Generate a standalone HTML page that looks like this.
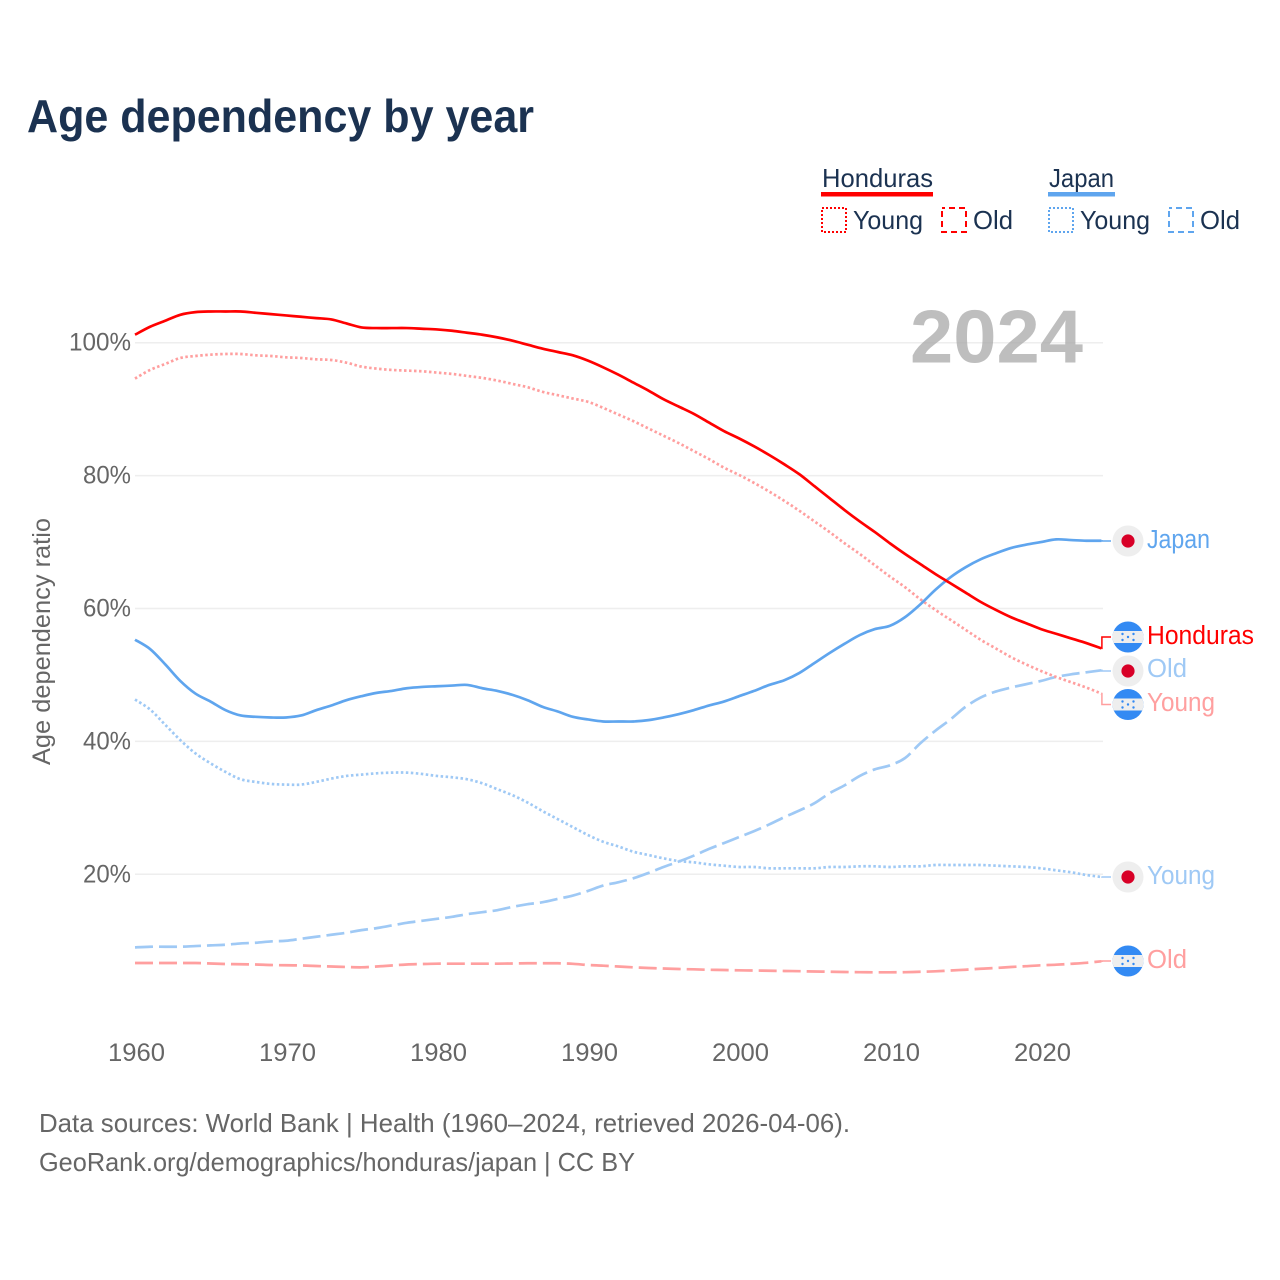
<!DOCTYPE html>
<html lang="en">
<head>
<meta charset="utf-8">
<title>Age dependency by year</title>
<style>
  html, body { margin: 0; padding: 0; background: #fff; }
  svg { display: block; font-family: "Liberation Sans", sans-serif; }
  .navy { fill: #1b3251; }
  .grey { fill: #666666; }
  .series { fill: none; stroke-width: 2.7; stroke-linejoin: round; }
  .conn { fill: none; stroke-width: 1.5; }
  .lab { font-size: 25.5px; }
</style>
</head>
<body>
<svg id="chart" xmlns="http://www.w3.org/2000/svg" width="1280" height="1280" viewBox="0 0 1280 1280">
  <defs>
    <clipPath id="round"><circle cx="0" cy="0" r="15.5"></circle></clipPath>
    <g id="flag-hn">
      <g clip-path="url(#round)">
        <rect x="-16" y="-16" width="32" height="32" fill="#338af3"></rect>
        <rect x="-16" y="-6" width="32" height="12" fill="#eeeeee"></rect>
      </g>
      <g fill="#338af3">
        <circle cx="0" cy="0" r="1.2"></circle>
        <circle cx="-5.5" cy="-3" r="1.2"></circle>
        <circle cx="5.5" cy="-3" r="1.2"></circle>
        <circle cx="-5.5" cy="3" r="1.2"></circle>
        <circle cx="5.5" cy="3" r="1.2"></circle>
      </g>
    </g>
    <g id="flag-jp">
      <circle cx="0" cy="0" r="15.5" fill="#eeeeee"></circle>
      <circle cx="0" cy="0" r="6.6" fill="#d80027"></circle>
    </g>
  </defs>

  <text class="navy" x="27" y="132" font-size="46" font-weight="700" textLength="507" lengthAdjust="spacingAndGlyphs">Age dependency by year</text>

  <g>
    <g>
      <text class="navy" x="822" y="187" font-size="26" textLength="111" lengthAdjust="spacingAndGlyphs">Honduras</text>
      <rect x="821" y="192" width="112" height="4.5" fill="#ff0000"></rect>
      <rect x="822" y="208" width="24" height="24" fill="none" stroke="#ff0000" stroke-width="2" stroke-dasharray="2 2"></rect>
      <text class="navy" x="853" y="229" font-size="26" textLength="70" lengthAdjust="spacingAndGlyphs">Young</text>
      <rect x="942" y="208" width="24" height="24" fill="none" stroke="#ff0000" stroke-width="2" stroke-dasharray="6 4" stroke-dashoffset="3"></rect>
      <text class="navy" x="973" y="229" font-size="26" textLength="40" lengthAdjust="spacingAndGlyphs">Old</text>
    </g>
    <g>
      <text class="navy" x="1049" y="187" font-size="26" textLength="65" lengthAdjust="spacingAndGlyphs">Japan</text>
      <rect x="1048" y="192" width="67" height="4.5" fill="#5fa5ee"></rect>
      <rect x="1049" y="208" width="24" height="24" fill="none" stroke="#5fa5ee" stroke-width="2" stroke-dasharray="2 2"></rect>
      <text class="navy" x="1080" y="229" font-size="26" textLength="70" lengthAdjust="spacingAndGlyphs">Young</text>
      <rect x="1169" y="208" width="24" height="24" fill="none" stroke="#5fa5ee" stroke-width="2" stroke-dasharray="6 4" stroke-dashoffset="3"></rect>
      <text class="navy" x="1200" y="229" font-size="26" textLength="40" lengthAdjust="spacingAndGlyphs">Old</text>
    </g>
  </g>

  <text class="grey" transform="translate(50,641.5) rotate(-90)" text-anchor="middle" font-size="25" textLength="247" lengthAdjust="spacingAndGlyphs">Age dependency ratio</text>

  <g id="grid"></g>
  <g id="yticks"></g>
  <g id="xticks"></g>

  <text x="910" y="362.5" font-size="75" font-weight="700" fill="#a8a8a8" fill-opacity="0.75" textLength="173" lengthAdjust="spacingAndGlyphs">2024</text>

  <g id="lines"></g>
  <g id="connectors"></g>

  <g>
    <use href="#flag-jp" x="1128" y="541"></use>
    <text class="lab" x="1147" y="548" fill="#5fa5ee" textLength="63" lengthAdjust="spacingAndGlyphs">Japan</text>
    <use href="#flag-hn" x="1128" y="637"></use>
    <text class="lab" x="1147" y="644" fill="#ff0000" textLength="107" lengthAdjust="spacingAndGlyphs">Honduras</text>
    <use href="#flag-jp" x="1128" y="671"></use>
    <text class="lab" x="1147" y="677" fill="#9fc9f5" textLength="40" lengthAdjust="spacingAndGlyphs">Old</text>
    <use href="#flag-hn" x="1128" y="704.5"></use>
    <text class="lab" x="1147" y="711" fill="#ff9f9f" textLength="68" lengthAdjust="spacingAndGlyphs">Young</text>
    <use href="#flag-jp" x="1128" y="877"></use>
    <text class="lab" x="1147" y="884" fill="#9fc9f5" textLength="68" lengthAdjust="spacingAndGlyphs">Young</text>
    <use href="#flag-hn" x="1128" y="961"></use>
    <text class="lab" x="1147" y="968" fill="#ff9f9f" textLength="40" lengthAdjust="spacingAndGlyphs">Old</text>
  </g>

  <text class="grey" x="39" y="1132" font-size="26" textLength="811" lengthAdjust="spacingAndGlyphs">Data sources: World Bank | Health (1960–2024, retrieved 2026-04-06).</text>
  <text class="grey" x="39" y="1171" font-size="26" textLength="596" lengthAdjust="spacingAndGlyphs">GeoRank.org/demographics/honduras/japan | CC BY</text>
</svg>

<script>
const years = [
  1960,1961,1962,1963,1964,1965,1966,1967,1968,1969,
  1970,1971,1972,1973,1974,1975,1976,1977,1978,1979,
  1980,1981,1982,1983,1984,1985,1986,1987,1988,1989,
  1990,1991,1992,1993,1994,1995,1996,1997,1998,1999,
  2000,2001,2002,2003,2004,2005,2006,2007,2008,2009,
  2010,2011,2012,2013,2014,2015,2016,2017,2018,2019,
  2020,2021,2022,2023,2024
];
const hondurasTotal = [
  101.2,102.4,103.3,104.2,104.6,104.7,104.7,104.7,104.5,104.3,
  104.1,103.9,103.7,103.5,102.9,102.3,102.2,102.2,102.2,102.1,
  102.0,101.8,101.5,101.2,100.8,100.3,99.7,99.1,98.6,98.1,
  97.3,96.3,95.2,94.0,92.8,91.5,90.4,89.3,88.0,86.7,
  85.6,84.4,83.1,81.7,80.2,78.4,76.6,74.8,73.1,71.5,
  69.8,68.2,66.7,65.2,63.8,62.4,61.0,59.8,58.7,57.8,
  56.9,56.2,55.5,54.8,54.0
];
const hondurasYoung = [
  94.6,95.9,96.8,97.7,98.0,98.2,98.3,98.3,98.1,98.0,
  97.8,97.7,97.5,97.4,97.0,96.4,96.1,95.9,95.8,95.7,
  95.5,95.3,95.0,94.7,94.3,93.8,93.3,92.6,92.1,91.6,
  91.1,90.2,89.2,88.2,87.1,86.0,84.9,83.7,82.5,81.2,
  80.1,78.9,77.6,76.2,74.7,73.1,71.5,69.8,68.2,66.5,
  64.8,63.2,61.4,59.8,58.3,56.8,55.3,54.0,52.7,51.6,
  50.6,49.7,48.9,48.1,47.2
];
const hondurasOld = [
  6.65,6.65,6.65,6.65,6.65,6.58,6.5,6.46,6.43,6.35,
  6.31,6.28,6.2,6.12,6.05,6.0,6.12,6.28,6.43,6.5,
  6.55,6.55,6.55,6.55,6.55,6.58,6.61,6.61,6.61,6.53,
  6.35,6.25,6.12,6.0,5.9,5.82,5.75,5.7,5.63,5.6,
  5.55,5.52,5.49,5.45,5.42,5.37,5.34,5.3,5.27,5.25,
  5.25,5.27,5.33,5.4,5.52,5.64,5.79,5.9,6.05,6.17,
  6.31,6.4,6.53,6.68,6.91
];
const japanTotal = [
  55.3,53.9,51.6,49.1,47.2,46.0,44.7,43.9,43.7,43.6,
  43.6,43.9,44.7,45.4,46.2,46.8,47.3,47.6,48.0,48.2,
  48.3,48.4,48.5,48.0,47.6,47.0,46.2,45.2,44.5,43.7,
  43.3,43.0,43.0,43.0,43.2,43.6,44.1,44.7,45.4,46.0,
  46.8,47.6,48.5,49.2,50.3,51.8,53.3,54.7,56.0,56.9,
  57.4,58.7,60.6,62.8,64.7,66.2,67.4,68.3,69.1,69.6,
  70.0,70.4,70.3,70.2,70.2
];
const japanYoung = [
  46.3,44.8,42.5,40.2,38.2,36.7,35.4,34.3,33.9,33.6,
  33.5,33.5,33.9,34.4,34.8,35.0,35.2,35.3,35.3,35.1,
  34.8,34.6,34.3,33.7,32.8,31.9,30.8,29.5,28.3,27.1,
  25.9,24.9,24.2,23.4,22.9,22.4,22.0,21.8,21.5,21.3,
  21.1,21.1,20.9,20.9,20.9,20.9,21.1,21.1,21.2,21.2,
  21.1,21.2,21.2,21.4,21.4,21.4,21.4,21.3,21.2,21.1,
  20.9,20.6,20.3,19.9,19.6
];
const japanOld = [
  9.0,9.1,9.1,9.1,9.2,9.3,9.4,9.6,9.7,9.9,
  10.0,10.3,10.6,10.9,11.2,11.6,11.9,12.3,12.7,13.0,
  13.3,13.6,14.0,14.3,14.6,15.1,15.5,15.8,16.3,16.8,
  17.5,18.3,18.8,19.4,20.2,21.1,21.9,22.8,23.8,24.7,
  25.6,26.5,27.5,28.6,29.6,30.7,32.2,33.4,34.8,35.8,
  36.4,37.5,39.7,41.6,43.3,45.2,46.6,47.5,48.1,48.6,
  49.1,49.7,50.1,50.4,50.7
];
const yTickValues = [20, 40, 60, 80, 100];
const xTickValues = [1960, 1970, 1980, 1990, 2000, 2010, 2020];

const NS = 'http://www.w3.org/2000/svg';
function xScale(year) { return 135 + (year - 1960) * 15.1; }
function yScale(value) { return 1007.2 - value * 6.645; }
function make(parent, tag) {
  const el = document.createElementNS(NS, tag);
  parent.appendChild(el);
  return el;
}

const gridGroup = document.getElementById('grid');
const yTickGroup = document.getElementById('yticks');
const xTickGroup = document.getElementById('xticks');
const lineGroup = document.getElementById('lines');
const connGroup = document.getElementById('connectors');

yTickValues.forEach(function (v) {
  const gl = make(gridGroup, 'line');
  
  
  gl.setAttribute('x1', xScale(1960));
  gl.setAttribute('x2', 1103);
  gl.setAttribute('y1', yScale(v));
  gl.setAttribute('y2', yScale(v));
  gl.setAttribute('stroke', '#eeeeee');
  gl.setAttribute('stroke-width', '1.5');
  const t = make(yTickGroup, 'text');
  
  
  t.setAttribute('class', 'grey');
  t.setAttribute('x', 131);
  t.setAttribute('y', yScale(v) + 8);
  t.setAttribute('text-anchor', 'end');
  t.setAttribute('font-size', '25');
  t.setAttribute('textLength', v === 100 ? 62 : 48);
  t.setAttribute('lengthAdjust', 'spacingAndGlyphs');
  t.textContent = v + '%';
});

xTickValues.forEach(function (yr) {
  const t = make(xTickGroup, 'text');
  
  
  t.setAttribute('class', 'grey');
  t.setAttribute('x', xScale(yr) + 1.5);
  t.setAttribute('y', 1061);
  t.setAttribute('text-anchor', 'middle');
  t.setAttribute('font-size', '25');
  t.setAttribute('textLength', 57);
  t.setAttribute('lengthAdjust', 'spacingAndGlyphs');
  t.textContent = yr;
});

function pathFor(values) {
  const pts = values.map(function (v, i) {
    return [xScale(years[i]), yScale(v)];
  });
  let d = 'M' + pts[0][0].toFixed(2) + ' ' + pts[0][1].toFixed(2);
  for (let i = 0; i < pts.length - 1; i++) {
    const p0 = pts[Math.max(i - 1, 0)];
    const p1 = pts[i];
    const p2 = pts[i + 1];
    const p3 = pts[Math.min(i + 2, pts.length - 1)];
    const c1x = p1[0] + (p2[0] - p0[0]) / 6;
    const c1y = p1[1] + (p2[1] - p0[1]) / 6;
    const c2x = p2[0] - (p3[0] - p1[0]) / 6;
    const c2y = p2[1] - (p3[1] - p1[1]) / 6;
    d += ' C' + c1x.toFixed(2) + ' ' + c1y.toFixed(2) + ' ' + c2x.toFixed(2) + ' ' + c2y.toFixed(2) + ' ' + p2[0].toFixed(2) + ' ' + p2[1].toFixed(2);
  }
  return d;
}
function drawLine(values, color, dash, name) {
  const p = make(lineGroup, 'path');
  
  
  p.setAttribute('class', 'series');
  p.setAttribute('d', pathFor(values));
  p.setAttribute('stroke', color);
  if (dash) p.setAttribute('stroke-dasharray', dash);
}
drawLine(japanOld, '#9fc9f5', '18 6', 'line-japan-old');
drawLine(japanYoung, '#9fc9f5', '2.5 2.5', 'line-japan-young');
drawLine(hondurasOld, '#ff9f9f', '18 6', 'line-honduras-old');
drawLine(hondurasYoung, '#ff9f9f', '2.5 2.5', 'line-honduras-young');
drawLine(japanTotal, '#5fa5ee', '', 'line-japan-total');
drawLine(hondurasTotal, '#ff0000', '', 'line-honduras-total');

function drawConnector(values, targetY, color, name) {
  const last = yScale(values[values.length - 1]);
  const xEnd = xScale(years[years.length - 1]);
  const p = make(connGroup, 'path');
  
  
  p.setAttribute('class', 'conn');
  p.setAttribute('stroke', color);
  p.setAttribute('d', 'M' + xEnd + ' ' + last + ' L' + (xEnd + 0.5) + ' ' + last + ' L' + (xEnd + 0.5) + ' ' + targetY + ' L1111 ' + targetY);
}
drawConnector(japanTotal, 541, '#5fa5ee', 'connector-japan-total');
drawConnector(hondurasTotal, 637, '#ff0000', 'connector-honduras-total');
drawConnector(japanOld, 671, '#9fc9f5', 'connector-japan-old');
drawConnector(hondurasYoung, 704.5, '#ff9f9f', 'connector-honduras-young');
drawConnector(japanYoung, 877, '#9fc9f5', 'connector-japan-young');
drawConnector(hondurasOld, 961, '#ff9f9f', 'connector-honduras-old');
</script>
</body>
</html>
